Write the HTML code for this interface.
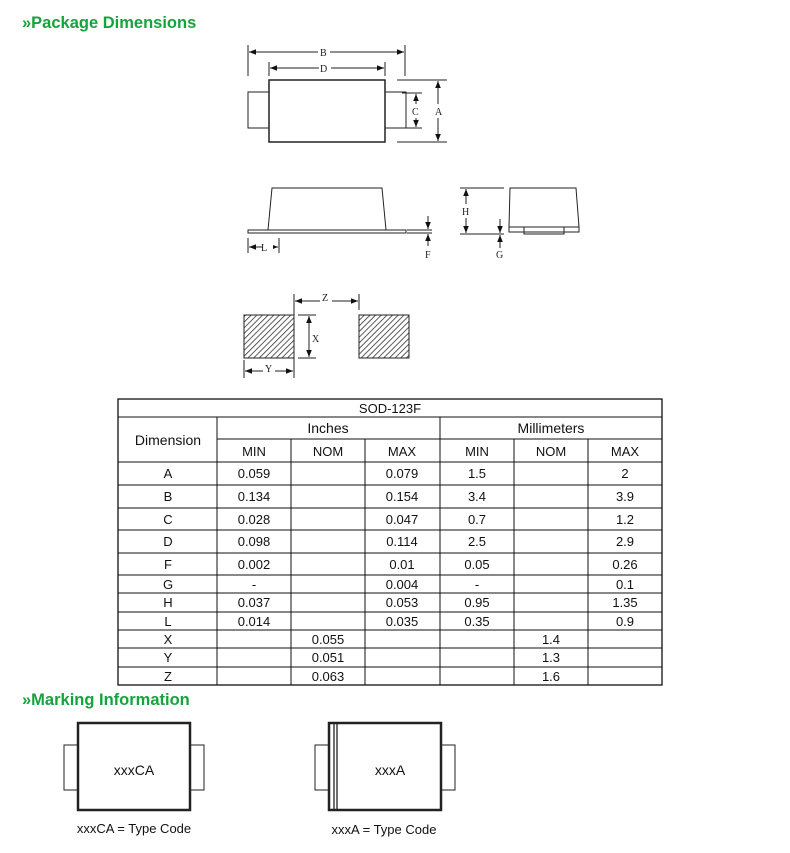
<!DOCTYPE html>
<html><head><meta charset="utf-8"><style>
body{margin:0;background:#fff;}
svg{display:block;font-family:"Liberation Sans",sans-serif;}
.s{font-family:"Liberation Serif",serif;font-size:10px;fill:#222;}
.t{font-size:13px;fill:#111;}
.h{font-size:14px;fill:#111;}
.g{font-size:16.5px;font-weight:bold;fill:#17a23e;}
</style></head><body>
<svg width="790" height="853" viewBox="0 0 790 853" xmlns="http://www.w3.org/2000/svg">
<defs>
<marker id="a" viewBox="0 0 10 10" refX="10" refY="5" markerWidth="7" markerHeight="7" orient="auto-start-reverse"><path d="M0,1 L10,5 L0,9z" fill="#111"/></marker>
<pattern id="hatch" width="4" height="4" patternUnits="userSpaceOnUse" patternTransform="rotate(45)"><rect width="4" height="4" fill="#fff"/><line x1="0" y1="0" x2="0" y2="4" stroke="#333" stroke-width="1.6"/></pattern>
</defs>
<text x="22" y="28" class="g">»Package Dimensions</text>
<text x="22" y="705" class="g">»Marking Information</text>
<g stroke="#222" stroke-width="1" fill="none">
<rect x="248" y="92" width="21" height="36"/>
<rect x="385" y="92" width="21" height="36"/>
<rect x="269" y="80" width="116" height="62" stroke-width="1.5" fill="#fff"/>
<line x1="248" y1="45" x2="248" y2="76"/><line x1="405" y1="45" x2="405" y2="76"/>
<line x1="249" y1="52" x2="404" y2="52" marker-start="url(#a)" marker-end="url(#a)"/>
<line x1="269" y1="62" x2="269" y2="76"/><line x1="385" y1="62" x2="385" y2="76"/>
<line x1="270" y1="68" x2="384" y2="68" marker-start="url(#a)" marker-end="url(#a)"/>
<line x1="397" y1="80" x2="447" y2="80"/><line x1="397" y1="142" x2="447" y2="142"/>
<line x1="438" y1="81" x2="438" y2="141" marker-start="url(#a)" marker-end="url(#a)"/>
<line x1="402" y1="93" x2="422" y2="93"/><line x1="402" y1="128" x2="422" y2="128"/>
<line x1="416" y1="94" x2="416" y2="127" marker-start="url(#a)" marker-end="url(#a)"/>
<path d="M272,188 L382,188 L386,230 L268,230 Z" fill="#fff"/>
<rect x="248" y="230" width="158" height="3"/>
<line x1="248" y1="238" x2="248" y2="253"/><line x1="279" y1="238" x2="279" y2="253"/>
<line x1="249" y1="247" x2="278" y2="247" marker-start="url(#a)" marker-end="url(#a)"/>
<line x1="407" y1="230" x2="432" y2="230"/><line x1="407" y1="233" x2="432" y2="233"/>
<line x1="428" y1="216" x2="428" y2="229" marker-end="url(#a)"/>
<line x1="428" y1="246" x2="428" y2="234" marker-end="url(#a)"/>
<path d="M510,188 L576,188 L579,227 L509,227 Z"/>
<rect x="509" y="227" width="70" height="5"/>
<rect x="524" y="227" width="40" height="7"/>
<line x1="460" y1="188" x2="504" y2="188"/><line x1="460" y1="234" x2="504" y2="234"/>
<line x1="466" y1="189" x2="466" y2="233" marker-start="url(#a)" marker-end="url(#a)"/>
<line x1="500" y1="219" x2="500" y2="233" marker-end="url(#a)"/>
<line x1="500" y1="248" x2="500" y2="235" marker-end="url(#a)"/>
<rect x="244" y="315" width="50" height="43" fill="url(#hatch)"/>
<rect x="359" y="315" width="50" height="43" fill="url(#hatch)"/>
<line x1="294" y1="294" x2="294" y2="378"/><line x1="359" y1="294" x2="359" y2="310"/>
<line x1="295" y1="301" x2="358" y2="301" marker-start="url(#a)" marker-end="url(#a)"/>
<line x1="298" y1="315" x2="316" y2="315"/><line x1="298" y1="358" x2="316" y2="358"/>
<line x1="309" y1="316" x2="309" y2="357" marker-start="url(#a)" marker-end="url(#a)"/>
<line x1="244" y1="360" x2="244" y2="378"/>
<line x1="245" y1="371" x2="293" y2="371" marker-start="url(#a)" marker-end="url(#a)"/>
<rect x="64" y="745" width="14" height="45"/><rect x="190" y="745" width="14" height="45"/>
<rect x="78" y="723" width="112" height="87" stroke-width="2.5" fill="#fff"/>
<rect x="315" y="745" width="14" height="45"/><rect x="441" y="745" width="14" height="45"/>
<rect x="329" y="723" width="112" height="87" stroke-width="2.5" fill="#fff"/>
<line x1="334" y1="723" x2="334" y2="810" stroke-width="1.3"/><line x1="337" y1="723" x2="337" y2="810" stroke-width="1.3"/>
</g>
<g fill="#fff"><rect x="318" y="46" width="12" height="12"/><rect x="319" y="62" width="12" height="12"/><rect x="433" y="104" width="10" height="14"/><rect x="411" y="104" width="10" height="14"/><rect x="320" y="295" width="12" height="12"/><rect x="263" y="242" width="10" height="10"/><rect x="461" y="204" width="10" height="14"/><rect x="263" y="366" width="12" height="10"/></g>
<g class="s">
<text x="320" y="56">B</text><text x="320" y="72">D</text><text x="435" y="115">A</text><text x="412" y="115">C</text>
<text x="261" y="251">L</text><text x="425" y="258">F</text><text x="462" y="215">H</text><text x="496" y="258">G</text>
<text x="322" y="301">Z</text><text x="312" y="342">X</text><text x="265" y="372">Y</text>
</g>
<text x="134" y="775" text-anchor="middle" class="h">xxxCA</text>
<text x="390" y="775" text-anchor="middle" class="h">xxxA</text>
<text x="134" y="833" text-anchor="middle" class="t">xxxCA = Type Code</text>
<text x="384" y="834" text-anchor="middle" class="t">xxxA = Type Code</text>
<g stroke="#111" stroke-width="1" fill="none">
<rect x="118" y="399" width="544" height="286" stroke-width="1.3"/>
<line x1="118" y1="417" x2="662" y2="417"/>
<line x1="217" y1="439" x2="662" y2="439"/>
<line x1="118" y1="462" x2="662" y2="462"/>
<line x1="118" y1="485" x2="662" y2="485"/><line x1="118" y1="508" x2="662" y2="508"/>
<line x1="118" y1="530" x2="662" y2="530"/><line x1="118" y1="553" x2="662" y2="553"/>
<line x1="118" y1="575" x2="662" y2="575"/><line x1="118" y1="593" x2="662" y2="593"/>
<line x1="118" y1="612" x2="662" y2="612"/><line x1="118" y1="630" x2="662" y2="630"/>
<line x1="118" y1="648" x2="662" y2="648"/><line x1="118" y1="667" x2="662" y2="667"/>
<line x1="217" y1="417" x2="217" y2="685"/><line x1="440" y1="417" x2="440" y2="685"/>
<line x1="291" y1="439" x2="291" y2="685"/><line x1="365" y1="439" x2="365" y2="685"/>
<line x1="514" y1="439" x2="514" y2="685"/><line x1="588" y1="439" x2="588" y2="685"/>
</g>
<g class="t" text-anchor="middle">
<text x="390" y="413">SOD-123F</text>
<text x="168" y="445" class="h">Dimension</text>
<text x="328" y="433" class="h">Inches</text><text x="551" y="433" class="h">Millimeters</text>
<text x="254" y="456">MIN</text><text x="328" y="456">NOM</text><text x="402" y="456">MAX</text>
<text x="477" y="456">MIN</text><text x="551" y="456">NOM</text><text x="625" y="456">MAX</text>
<text x="168" y="478">A</text><text x="254" y="478">0.059</text><text x="402" y="478">0.079</text><text x="477" y="478">1.5</text><text x="625" y="478">2</text>
<text x="168" y="501">B</text><text x="254" y="501">0.134</text><text x="402" y="501">0.154</text><text x="477" y="501">3.4</text><text x="625" y="501">3.9</text>
<text x="168" y="524">C</text><text x="254" y="524">0.028</text><text x="402" y="524">0.047</text><text x="477" y="524">0.7</text><text x="625" y="524">1.2</text>
<text x="168" y="546">D</text><text x="254" y="546">0.098</text><text x="402" y="546">0.114</text><text x="477" y="546">2.5</text><text x="625" y="546">2.9</text>
<text x="168" y="569">F</text><text x="254" y="569">0.002</text><text x="402" y="569">0.01</text><text x="477" y="569">0.05</text><text x="625" y="569">0.26</text>
<text x="168" y="589">G</text><text x="254" y="589">-</text><text x="402" y="589">0.004</text><text x="477" y="589">-</text><text x="625" y="589">0.1</text>
<text x="168" y="607">H</text><text x="254" y="607">0.037</text><text x="402" y="607">0.053</text><text x="477" y="607">0.95</text><text x="625" y="607">1.35</text>
<text x="168" y="626">L</text><text x="254" y="626">0.014</text><text x="402" y="626">0.035</text><text x="477" y="626">0.35</text><text x="625" y="626">0.9</text>
<text x="168" y="644">X</text><text x="328" y="644">0.055</text><text x="551" y="644">1.4</text>
<text x="168" y="662">Y</text><text x="328" y="662">0.051</text><text x="551" y="662">1.3</text>
<text x="168" y="681">Z</text><text x="328" y="681">0.063</text><text x="551" y="681">1.6</text>
</g>
</svg>
</body></html>
